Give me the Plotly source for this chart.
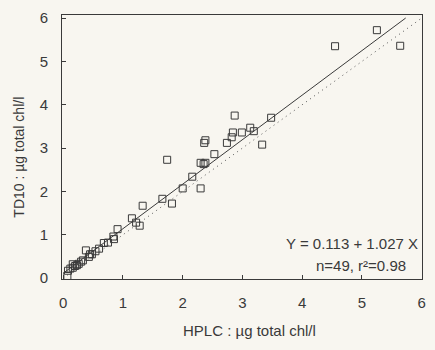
import plotly.graph_objects as go

# HPLC (x) vs TD10 (y), µg total chl/l
hplc = [
    0.07, 0.08, 0.12, 0.16, 0.16, 0.20, 0.23, 0.26, 0.30, 0.33,
    0.38, 0.43, 0.45, 0.48, 0.54, 0.60, 0.68, 0.75, 0.84, 0.85,
    0.91, 1.15, 1.22, 1.28, 1.33, 1.66, 1.74, 1.82, 2.00, 2.16,
    2.30, 2.30, 2.35, 2.36, 2.38, 2.38, 2.53, 2.74, 2.82, 2.84,
    2.87, 2.99, 3.13, 3.19, 3.33, 3.48, 4.55, 5.25, 5.64,
]
td10 = [
    0.05, 0.17, 0.22, 0.24, 0.32, 0.28, 0.30, 0.33, 0.38, 0.41,
    0.64, 0.49, 0.55, 0.55, 0.62, 0.68, 0.81, 0.82, 0.96, 0.90,
    1.13, 1.38, 1.28, 1.21, 1.67, 1.83, 2.73, 1.72, 2.07, 2.34,
    2.07, 2.66, 2.63, 3.12, 2.66, 3.18, 2.86, 3.12, 3.25, 3.36,
    3.75, 3.36, 3.47, 3.39, 3.08, 3.70, 5.35, 5.72, 5.36,
]

intercept = 0.113
slope = 1.027
x_fit_end = (6.0 - intercept) / slope
fit_x = [0.0, x_fit_end]
fit_y = [intercept + slope * v for v in fit_x]
one_to_one = [0.0, 6.0]

ink = "#3a3a3a"
paper = "#f8f6f0"
font = "Liberation Sans, Arial, sans-serif"

fig = go.Figure()
fig.add_trace(go.Scatter(
    x=one_to_one, y=one_to_one, mode="lines",
    line={"color": "#555", "width": 1, "dash": "1px,4px"},
))
fig.add_trace(go.Scatter(
    x=fit_x, y=fit_y, mode="lines",
    line={"color": ink, "width": 1},
))
fig.add_trace(go.Scatter(
    x=hplc, y=td10, mode="markers",
    marker={"symbol": "square-open", "size": 7, "color": ink,
            "line": {"width": 1, "color": ink}},
    cliponaxis=False,
))

axis_common = dict(
    showgrid=False, zeroline=False, showline=True, linecolor=ink,
    linewidth=1, mirror=True, ticks="inside", ticklen=4, tickcolor=ink,
    tickfont={"size": 15, "color": ink, "family": font},
    tickvals=[0, 1, 2, 3, 4, 5, 6],
)

fig.update_layout(
    width=435, height=350,
    margin={"l": 62, "r": 9, "t": 12, "b": 71},
    paper_bgcolor=paper, plot_bgcolor=paper,
    showlegend=False,
    font={"family": font, "color": ink},
    xaxis=dict(axis_common, range=[-0.02, 6.005], ticklabelstandoff=10),
    yaxis=dict(axis_common, range=[-0.02, 6.07], ticklabelstandoff=10),
    annotations=[
        dict(text="Y = 0.113 + 1.027 X", x=0.995, y=0.135, xref="paper",
             yref="paper", showarrow=False, xanchor="right",
             yanchor="middle", font={"size": 15, "color": ink}),
        dict(text="n=49, r²=0.98", x=0.962, y=0.052, xref="paper",
             yref="paper", showarrow=False, xanchor="right",
             yanchor="middle", font={"size": 15, "color": ink}),
        dict(text="HPLC : µg total chl/l", x=0.522, y=-0.195, xref="paper",
             yref="paper", showarrow=False, xanchor="center",
             yanchor="middle", font={"size": 15, "color": ink}),
        dict(text="TD10 : µg total chl/l", x=-0.122, y=0.46, xref="paper",
             yref="paper", showarrow=False, textangle=-90,
             xanchor="center", yanchor="middle",
             font={"size": 14, "color": ink}),
    ],
)

fig.write_html(
    "out.html",
    config={"displayModeBar": False},
    post_script="document.body.style.margin='0';",
)
